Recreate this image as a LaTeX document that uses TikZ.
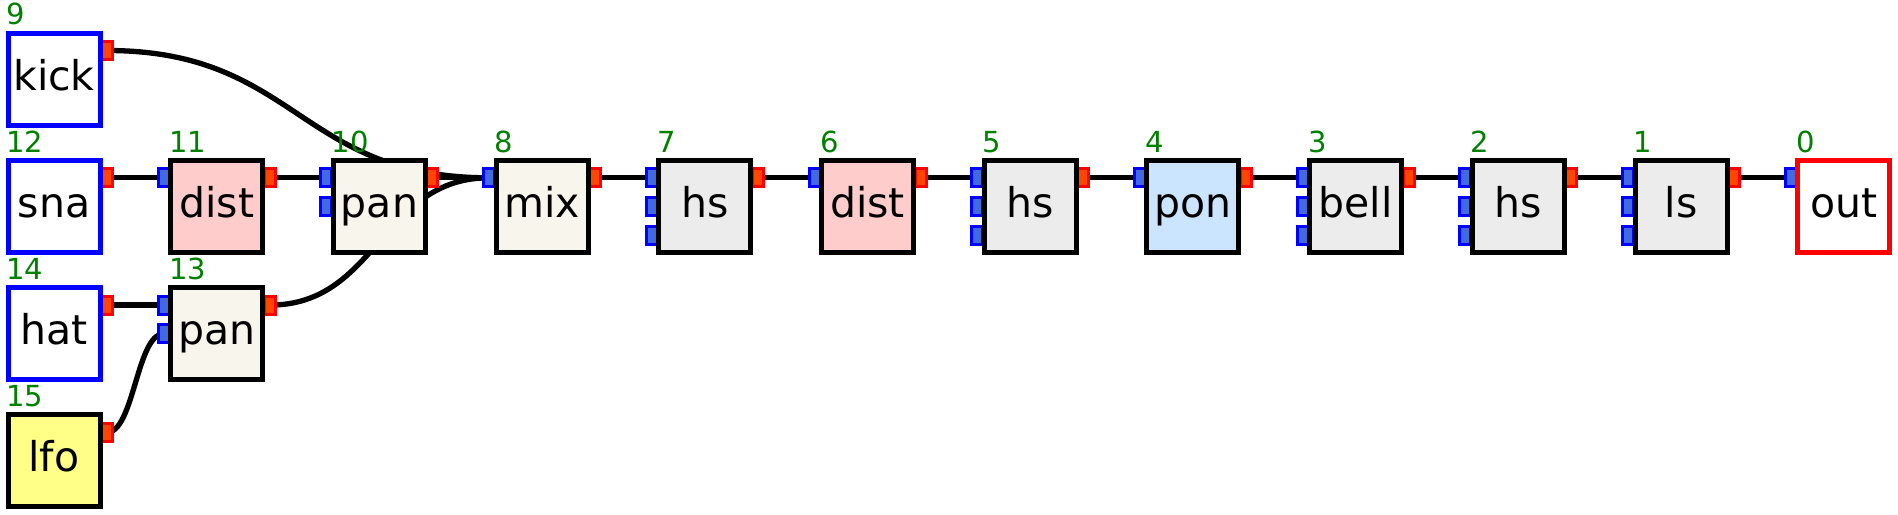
\documentclass[tikz,border=0pt]{standalone}
\usepackage{fontspec}
\setmainfont{DejaVu Sans}
\usetikzlibrary{calc,backgrounds}
\definecolor{numgreen}{RGB}{0,128,0}
\definecolor{distfill}{RGB}{255,204,204}
\definecolor{panfill}{RGB}{248,245,237}
\definecolor{hsfill}{RGB}{236,236,236}
\definecolor{ponfill}{RGB}{204,229,255}
\definecolor{lfofill}{RGB}{255,255,136}
\definecolor{outportfill}{RGB}{255,69,0}
\definecolor{inportfill}{RGB}{65,105,225}
\tikzset{
  modbox/.style={rectangle, draw=black, line width=5pt, minimum size=92pt,
    inner sep=0pt, outer sep=0pt, text height=30pt, text depth=8pt,
    font=\fontsize{41}{41}\selectfont},
  srcbox/.style={modbox, draw=blue, fill=white},
  sinkbox/.style={modbox, draw=red, fill=white},
  lfobox/.style={modbox, fill=lfofill},
  distbox/.style={modbox, fill=distfill},
  panbox/.style={modbox, fill=panfill},
  hsbox/.style={modbox, fill=hsfill},
  ponbox/.style={modbox, fill=ponfill},
  portbase/.style={rectangle, line width=3pt, minimum width=11pt,
    minimum height=18pt, inner sep=0pt, outer sep=0pt},
  outport/.style={portbase, draw=red, fill=outportfill},
  inport/.style={portbase, draw=blue, fill=inportfill},
  numlbl/.style={anchor=base west, inner sep=0pt, outer sep=0pt, text=numgreen,
    font=\fontsize{29}{29}\selectfont},
  wire/.style={draw=black, line width=5.3pt},
}
% #1 name, #2 x, #3 y, #4 number, #5 text, #6 style, #7 inputs, #8 has output
\newcommand\mymod[8]{%
  \ifnum#8=1 \node[outport] (#1o) at ($(#2,#3)+(53,-28.5)$) {};\fi
  \ifnum#7>0 \node[inport] (#1i1) at ($(#2,#3)+(-53,-28.5)$) {};\fi
  \ifnum#7>1 \node[inport] (#1i2) at ($(#2,#3)+(-53,0.2)$) {};\fi
  \ifnum#7>2 \node[inport] (#1i3) at ($(#2,#3)+(-53,28.9)$) {};\fi
  \node[#6] (#1) at (#2,#3) {#5};
  \node[numlbl] (#1n) at ($(#1.north west)+(-1.5,-8.1)$) {#4};
}
\begin{document}
\begin{tikzpicture}[x=1pt,y=-1pt]
\useasboundingbox (0,0) rectangle (1898,514);
\mymod{n9}{54}{79}{9}{kick}{srcbox}{0}{1}
\mymod{n12}{54}{206.3}{12}{sna}{srcbox}{0}{1}
\mymod{n14}{54}{333.6}{14}{hat}{srcbox}{0}{1}
\mymod{n15}{54}{460.9}{15}{lfo}{lfobox}{0}{1}
\mymod{n11}{216.7}{206.3}{11}{dist}{distbox}{1}{1}
\mymod{n13}{216.7}{333.6}{13}{pan}{panbox}{2}{1}
\mymod{n10}{379.4}{206.3}{10}{pan}{panbox}{2}{1}
\mymod{n8}{542.1}{206.3}{8}{mix}{panbox}{1}{1}
\mymod{n7}{704.8}{206.3}{7}{hs}{hsbox}{3}{1}
\mymod{n6}{867.5}{206.3}{6}{dist}{distbox}{1}{1}
\mymod{n5}{1030.2}{206.3}{5}{hs}{hsbox}{3}{1}
\mymod{n4}{1192.9}{206.3}{4}{pon}{ponbox}{1}{1}
\mymod{n3}{1355.6}{206.3}{3}{bell}{hsbox}{3}{1}
\mymod{n2}{1518.3}{206.3}{2}{hs}{hsbox}{3}{1}
\mymod{n1}{1681}{206.3}{1}{ls}{hsbox}{3}{1}
\mymod{n0}{1843.7}{206.3}{0}{out}{sinkbox}{1}{0}
\begin{scope}[on background layer]
  \draw[wire] (n12o.center) -- (n11i1.center);
  \draw[wire] (n11o.center) -- (n10i1.center);
  \draw[wire] (n10o.center) -- (n8i1.center);
  \draw[wire] (n8o.center) -- (n7i1.center);
  \draw[wire] (n7o.center) -- (n6i1.center);
  \draw[wire] (n6o.center) -- (n5i1.center);
  \draw[wire] (n5o.center) -- (n4i1.center);
  \draw[wire] (n4o.center) -- (n3i1.center);
  \draw[wire] (n3o.center) -- (n2i1.center);
  \draw[wire] (n2o.center) -- (n1i1.center);
  \draw[wire] (n1o.center) -- (n0i1.center);
  \draw[wire] (n14o.center) -- (n13i1.center);
  \draw[wire] (n9o.center) .. controls ($(n9o.center)+(190,0)$) and ($(n8i1.center)+(-190,0)$) .. (n8i1.center);
  \draw[wire] (n13o.center) .. controls ($(n13o.center)+(108,0)$) and ($(n8i1.center)+(-108,0)$) .. (n8i1.center);
  \draw[wire] (n15o.center) .. controls ($(n15o.center)+(27,0)$) and ($(n13i2.center)+(-27,0)$) .. (n13i2.center);
\end{scope}
\end{tikzpicture}
\end{document}
